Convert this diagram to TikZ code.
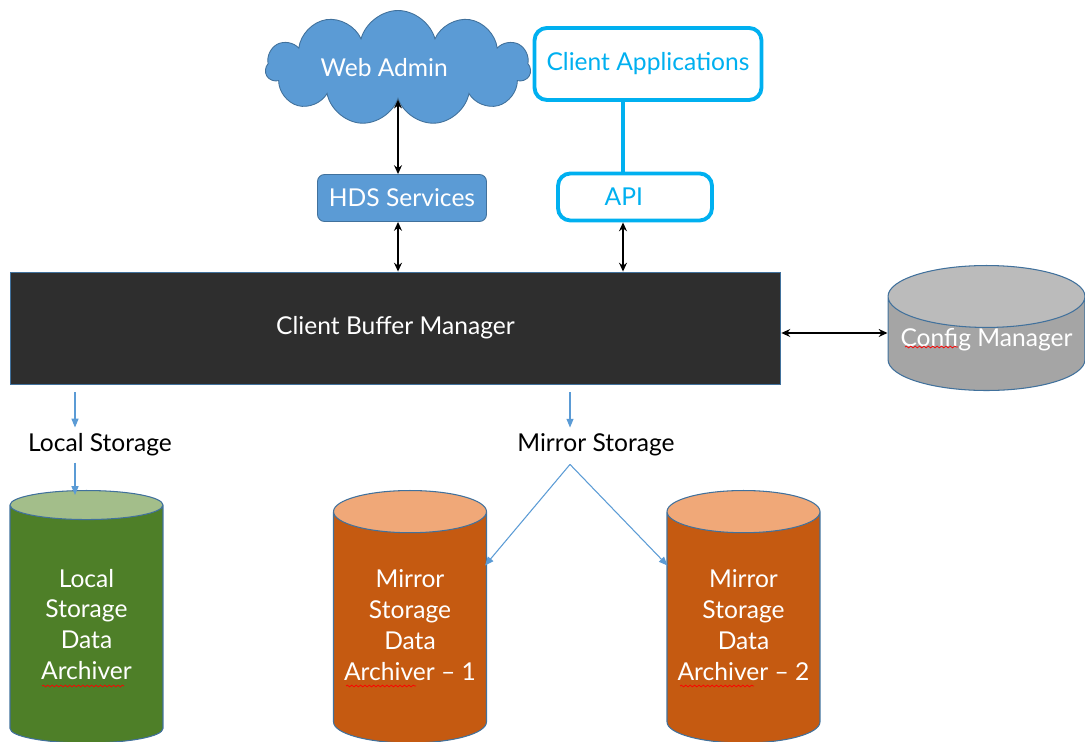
\documentclass[tikz,border=0pt]{standalone}
\usepackage{fontspec}
\setmainfont{Lato}
\usetikzlibrary{shapes.geometric,shapes.symbols,arrows.meta,calc,decorations.pathmorphing}
\definecolor{cloudblue}{HTML}{5B9BD5}
\definecolor{edgeblue}{HTML}{41719C}
\definecolor{cyanb}{HTML}{00B0F0}
\definecolor{cbmgray}{HTML}{2E2E2E}
\definecolor{cfgbody}{HTML}{A5A5A5}
\definecolor{cfgtop}{HTML}{BBBBBB}
\definecolor{grnbody}{HTML}{4E7F28}
\definecolor{grntop}{HTML}{A3BE8A}
\definecolor{orbody}{HTML}{C55A11}
\definecolor{ortop}{HTML}{F0A878}
\definecolor{arrowblue}{HTML}{5B9BD5}
\begin{document}
\begin{tikzpicture}[x=0.02cm,y=-0.02cm,
  txt/.style={font=\fontsize{14}{17.6}\selectfont},
  cyl/.style={cylinder, shape border rotate=90, draw=edgeblue, line width=0.6pt,
    cylinder uses custom fill, aspect=0.32, minimum width=3.06cm, minimum height=5.05cm,
    align=center, text=white, inner sep=0pt, txt, anchor=north},
  dbl/.style={{Stealth[length=5pt,width=4.5pt]}-{Stealth[length=5pt,width=4.5pt]}, line width=0.9pt, black},
  barr/.style={-{Triangle[length=5pt,width=4pt]}, arrowblue, line width=0.6pt},
  outbox/.style={draw=cyanb, line width=2.2pt, rounded corners=7pt, fill=white, text=cyanb, txt},
  squig/.style={red, line width=0.4pt, decorate, decoration={snake, amplitude=0.5pt, segment length=2.5pt}}
]
\useasboundingbox (0,0) rectangle (1085,742);

% top row
\node[cloud, cloud puffs=11, aspect=2.4, fill=cloudblue, draw=edgeblue, line width=0.5pt,
      minimum width=5.3cm, minimum height=2.3cm, inner sep=0pt, text=white, txt] (web) at (398,68) {\hspace*{-0.55cm}Web Admin};
\node[outbox, minimum width=4.54cm, minimum height=1.44cm] (ca) at (648,64) {Client Applications};
\node[fill=cloudblue, draw=edgeblue, line width=0.5pt, rounded corners=4pt, text=white, txt,
      minimum width=3.38cm, minimum height=0.94cm] (hds) at (402,198) {HDS Services};
\node[outbox, minimum width=3.08cm, minimum height=0.94cm, inner xsep=0pt] (api) at (635,197) {\hspace*{-0.45cm}API};

% main block
\node[fill=cbmgray, draw=edgeblue, line width=0.5pt, minimum width=15.42cm, minimum height=2.24cm,
      text=white, txt] (cbm) at (395.5,328) {Client Buffer Manager};
\node[cylinder, shape border rotate=90, draw=edgeblue, line width=0.6pt, cylinder uses custom fill,
      cylinder body fill=cfgbody, cylinder end fill=cfgtop, aspect=0.36, minimum width=3.94cm,
      minimum height=2.5cm, inner sep=0pt, text=white, txt, anchor=north] (cfg) at (986.5,265)
      {\raisebox{0pt}[\height][\dimexpr\depth+0.16cm]{Config Manager}};

% connector anchors
\coordinate (xl) at (75,0);
\coordinate (xm) at (570,0);
\coordinate (xa) at (623,0);
\coordinate (ym) at (0,333);

\draw[dbl] (web.south) -- (hds.north -| web.south);
\draw[dbl] (hds.south -| web.south) -- (cbm.north -| web.south);
\draw[cyanb, line width=2.2pt] (ca.south -| xa) -- (api.north -| xa);
\draw[dbl] (api.south -| xa) -- (cbm.north -| xa);
\draw[dbl] (cbm.east |- ym) -- (cfg.west |- ym);

% storage labels
\node[txt] (ls) at (100,445) {Local Storage};
\node[txt] (ms) at (596,445) {Mirror Storage};

% cylinders
\node[cyl, cylinder body fill=grnbody, cylinder end fill=grntop] (loc) at (86.5,490)
  {\raisebox{0pt}[\dimexpr\height+0.12cm][\depth]{\begin{tabular}{@{}c@{}}Local\\Storage\\Data\\Archiver\end{tabular}}};
\node[cyl, cylinder body fill=orbody, cylinder end fill=ortop] (m1) at (410,490)
  {\begin{tabular}{@{}c@{}}Mirror\\Storage\\Data\\Archiver\ -- 1\end{tabular}};
\node[cyl, cylinder body fill=orbody, cylinder end fill=ortop] (m2) at (743.5,490)
  {\begin{tabular}{@{}c@{}}Mirror\\Storage\\Data\\Archiver\ -- 2\end{tabular}};

\draw[barr] ([yshift=-0.16cm]cbm.south -| xl) -- (ls.north -| xl);
\draw[barr] (ls.south -| xl) -- ([yshift=-0.1cm]loc.north -| xl);
\draw[barr] ([yshift=-0.16cm]cbm.south -| xm) -- (ms.north -| xm);
\coordinate (split) at ($(ms.south -| xm)+(0,2)$);
\draw[barr] (split) -- ($(m1.north east)+(-2,15)$);
\draw[barr] (split) -- ($(m2.north west)+(1,15)$);

% spell-check squiggles
\draw[squig] (905,347) -- (958,347);
\draw[squig] (42,686) -- (124,686);
\draw[squig] (346,686) -- (416,686);
\draw[squig] (680,686) -- (754,686);
\end{tikzpicture}
\end{document}
